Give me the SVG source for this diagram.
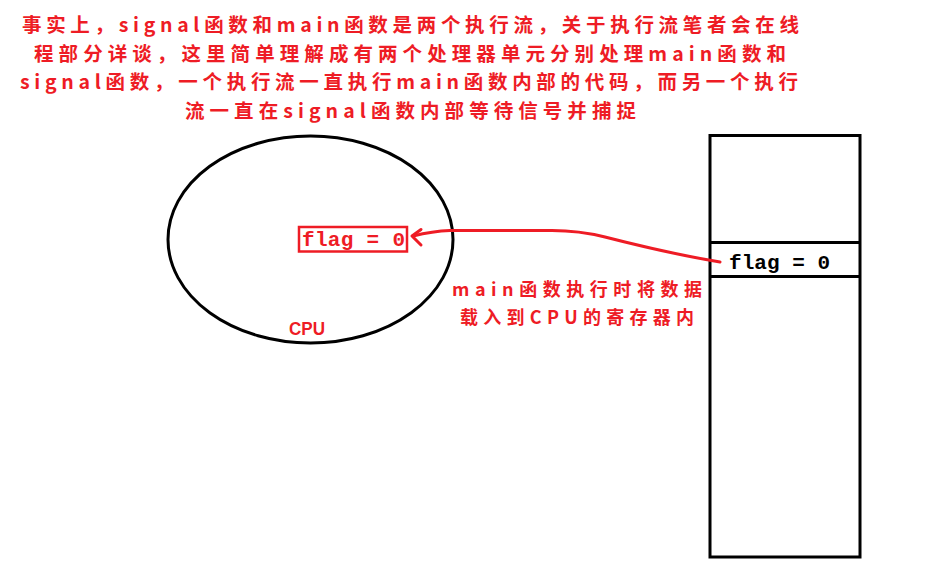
<svg xmlns="http://www.w3.org/2000/svg" width="948" height="586" viewBox="0 0 948 586">
<style>
.note{font-family:"Noto Sans CJK SC","Noto Sans",sans-serif;font-weight:bold;fill:#ee1c25}
.t{font-size:19.5px}
.s{font-size:18px}
.code{font-family:"Liberation Mono","DejaVu Sans Mono",monospace;font-weight:bold;font-size:21px}
.blk{fill:none;stroke:#000;stroke-width:3}
</style>
<rect width="948" height="586" fill="#fff"/>
<g id="title">
<text class="note t" x="22" y="31.5" textLength="777" lengthAdjust="spacing">事实上，signal函数和main函数是两个执行流，关于执行流笔者会在线</text>
<text class="note t" x="34" y="60.5" textLength="752" lengthAdjust="spacing">程部分详谈，这里简单理解成有两个处理器单元分别处理main函数和</text>
<text class="note t" x="20" y="89" textLength="778" lengthAdjust="spacing">signal函数，一个执行流一直执行main函数内部的代码，而另一个执行</text>
<text class="note t" x="185" y="117.5" textLength="451" lengthAdjust="spacing">流一直在signal函数内部等待信号并捕捉</text>
</g>
<g id="cpu">
<ellipse class="blk" cx="310.5" cy="239.5" rx="142.5" ry="103.5"/>
<text x="289" y="335" textLength="36" lengthAdjust="spacingAndGlyphs" style="font-family:'Liberation Sans',Arial,sans-serif;font-weight:bold;font-size:18px;fill:#ee1c25">CPU</text>
</g>
<g id="cpu-flag">
<rect x="299" y="227" width="108" height="24.5" fill="none" stroke="#ee1c25" stroke-width="2.5"/>
<text class="code" x="302" y="246" textLength="103" lengthAdjust="spacing" fill="#ee1c25">flag = 0</text>
</g>
<g id="memory">
<rect class="blk" x="710" y="135.5" width="150" height="421.5"/>
<line class="blk" x1="710" y1="242.5" x2="860" y2="242.5"/>
<line class="blk" x1="710" y1="276.5" x2="860" y2="276.5"/>
<text class="code" x="729" y="269" textLength="101" lengthAdjust="spacing" fill="#000">flag = 0</text>
</g>
<g id="connectors">
<path d="M720,262 C690,257 640,246 605,237 C585,232 572,230.5 552,230.5 L450,230.5 C435,231 425,233 413,236" fill="none" stroke="#ee1c25" stroke-width="3" stroke-linecap="round" stroke-linejoin="round"/>
<path d="M421,229.5 L412,236 L421,245" fill="none" stroke="#ee1c25" stroke-width="3" stroke-linecap="round" stroke-linejoin="round"/>
</g>
<g id="load-label">
<text class="note s" x="452" y="296" textLength="250" lengthAdjust="spacing">main函数执行时将数据</text>
<text class="note s" x="460" y="324" textLength="234" lengthAdjust="spacing">载入到CPU的寄存器内</text>
</g>
</svg>
